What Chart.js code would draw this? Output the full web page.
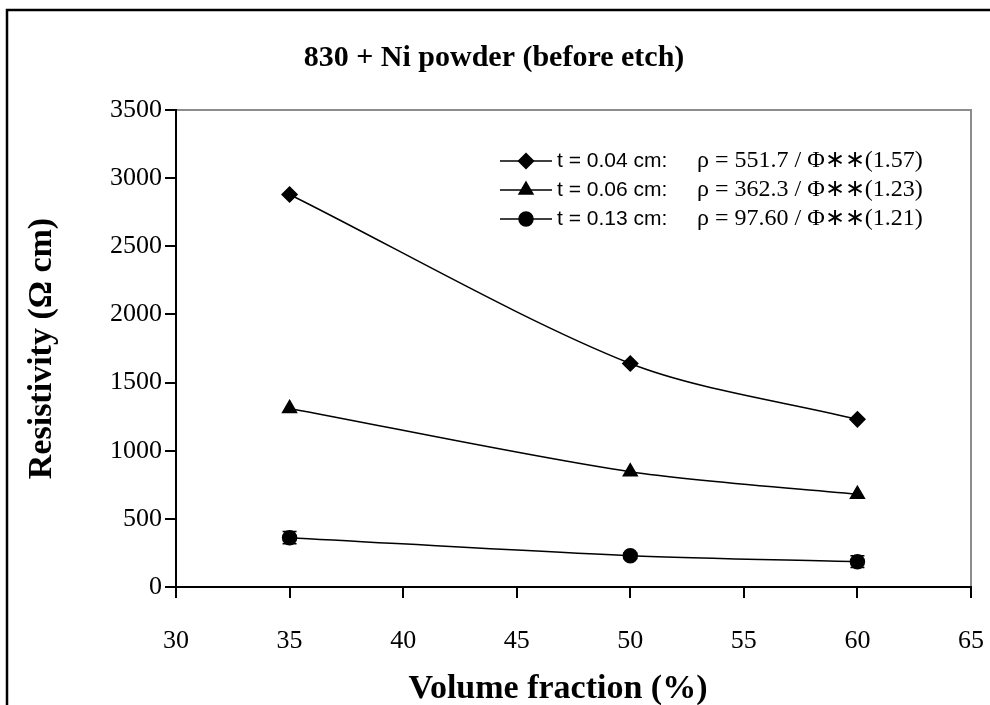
<!DOCTYPE html>
<html>
<head>
<meta charset="utf-8">
<script src="https://cdn.jsdelivr.net/npm/chart.js@4.4.0/dist/chart.umd.min.js"></script>
<style>
  html, body { margin: 0; padding: 0; background: #fff; }
  #wrap { width: 990px; height: 705px; }
</style>
</head>
<body>
<div id="wrap"><canvas id="chart" width="990" height="705"></canvas></div>
<script>
const chartTitle = '830 + Ni powder (before etch)';
const xTitle = 'Volume fraction (%)';
const yTitle = 'Resistivity (Ω cm)';
const volumeFraction = [35, 50, 60];
const rhoThin = [2880, 1640, 1230]; // t = 0.04 cm
const rhoMid = [1310, 845, 680]; // t = 0.06 cm
const rhoThick = [362, 230, 186]; // t = 0.13 cm
const rhoThickErr = [45, 20, 43];
const seriesLabels = ['t = 0.04 cm:', 't = 0.06 cm:', 't = 0.13 cm:'];
const fitLabels = [
  'ρ = 551.7 / Φ∗∗(1.57)',
  'ρ = 362.3 / Φ∗∗(1.23)',
  'ρ = 97.60 / Φ∗∗(1.21)',
];
const markers = ['rectRot', 'triangle', 'circle'];
const xTicks = [30, 35, 40, 45, 50, 55, 60, 65];
const yTicks = [0, 500, 1000, 1500, 2000, 2500, 3000, 3500];

const serif = "'Liberation Serif', 'Times New Roman', serif";
const sans = "'Liberation Sans', Arial, sans-serif";

const toPoints = function (values) {
  return values.map((v, i) => ({ x: volumeFraction[i], y: v }));
};

// frame, titles, hand made legend and error bars
const decorations = {
  id: 'decorations',
  afterDatasetsDraw(chart) {
    const ctx = chart.ctx;
    const x = chart.scales.x;
    const y = chart.scales.y;
    ctx.save();
    ctx.strokeStyle = '#000';
    ctx.lineWidth = 1.5;
    rhoThick.forEach((v, i) => {
      const px = x.getPixelForValue(volumeFraction[i]);
      const top = y.getPixelForValue(v + rhoThickErr[i]);
      const bot = y.getPixelForValue(v - rhoThickErr[i]);
      ctx.beginPath();
      ctx.moveTo(px, top);
      ctx.lineTo(px, bot);
      ctx.moveTo(px - 7, top);
      ctx.lineTo(px + 7, top);
      ctx.moveTo(px - 7, bot);
      ctx.lineTo(px + 7, bot);
      ctx.stroke();
    });
    ctx.restore();
  },
  afterDraw(chart) {
    const ctx = chart.ctx;
    const area = chart.chartArea;
    ctx.save();
    // outer chart border
    ctx.strokeStyle = '#000';
    ctx.lineWidth = 2.5;
    ctx.strokeRect(7, 10, 1000, 800);
    // plot area border top / right
    ctx.strokeStyle = '#8c8c8c';
    ctx.lineWidth = 2;
    ctx.beginPath();
    ctx.moveTo(area.left + 1, area.top);
    ctx.lineTo(area.right, area.top);
    ctx.lineTo(area.right, area.bottom - 1);
    ctx.stroke();
    // titles
    ctx.fillStyle = '#000';
    ctx.textAlign = 'center';
    ctx.textBaseline = 'middle';
    ctx.font = 'bold 30px ' + serif;
    ctx.fillText(chartTitle, 494, 58);
    ctx.font = 'bold 34px ' + serif;
    ctx.fillText(xTitle, 558, 689);
    // legend
    const rows = [161, 190, 219];
    chart.data.datasets.forEach((ds, i) => {
      const ry = rows[i];
      ctx.strokeStyle = '#000';
      ctx.lineWidth = 1.5;
      ctx.beginPath();
      ctx.moveTo(500, ry);
      ctx.lineTo(552, ry);
      ctx.stroke();
      Chart.helpers.drawPoint(ctx, {
        pointStyle: ds.pointStyle,
        radius: ds.pointRadius,
        borderWidth: 1,
      }, 526, ry);
      ctx.textAlign = 'left';
      ctx.font = '21px ' + sans;
      ctx.fillText(seriesLabels[i], 557, ry);
      ctx.font = '24px ' + serif;
      ctx.fillText(fitLabels[i], 697, ry);
    });
    ctx.restore();
  },
};

const axisBase = {
  type: 'linear',
  grid: {
    drawOnChartArea: false,
    drawTicks: true,
    tickLength: 11,
    color: '#000',
    lineWidth: 2,
  },
  border: { color: '#000', width: 2 },
};

const chart = new Chart(document.querySelector('#chart'), {
  type: 'line',
  data: {
    datasets: [
      { label: seriesLabels[0], data: toPoints(rhoThin), pointStyle: markers[0], pointRadius: 7.5 },
      { label: seriesLabels[1], data: toPoints(rhoMid), pointStyle: markers[1], pointRadius: 8 },
      { label: seriesLabels[2], data: toPoints(rhoThick), pointStyle: markers[2], pointRadius: 7 },
    ].map((d) => Object.assign(d, {
      borderColor: '#000',
      backgroundColor: '#000',
      pointBackgroundColor: '#000',
      pointBorderColor: '#000',
      borderWidth: 1.5,
      tension: 0.3,
    })),
  },
  options: {
    responsive: false,
    animation: false,
    layout: { padding: { top: 110, right: 19, bottom: 0, left: 14 } },
    plugins: {
      legend: { display: false },
      tooltip: { enabled: false },
    },
    scales: {
      x: Object.assign({}, axisBase, {
        min: 30,
        max: 65,
        afterBuildTicks: (scale) => {
          scale.ticks = xTicks.map((v) => ({ value: v }));
        },
        afterFit: (scale) => {
          scale.height = 118;
        },
        ticks: {
          color: '#000',
          // tall line height pushes the labels down without side padding
          font: { family: serif, size: 26, lineHeight: 3.1 },
          padding: 3,
          maxRotation: 0,
          callback: (v) => String(v),
        },
        title: { display: false, text: xTitle },
      }),
      y: Object.assign({}, axisBase, {
        min: 0,
        max: 3500,
        afterBuildTicks: (scale) => {
          scale.ticks = yTicks.map((v) => ({ value: v }));
        },
        afterFit: (scale) => {
          scale.width = 162;
        },
        ticks: {
          color: '#000',
          font: { family: serif, size: 26 },
          padding: 3,
          callback: (v) => String(v),
        },
        title: {
          display: true,
          text: yTitle,
          color: '#000',
          font: { family: serif, size: 34, weight: 'bold', lineHeight: 1 },
          padding: { top: 11 },
        },
      }),
    },
  },
  plugins: [decorations],
});
</script>
</body>
</html>
